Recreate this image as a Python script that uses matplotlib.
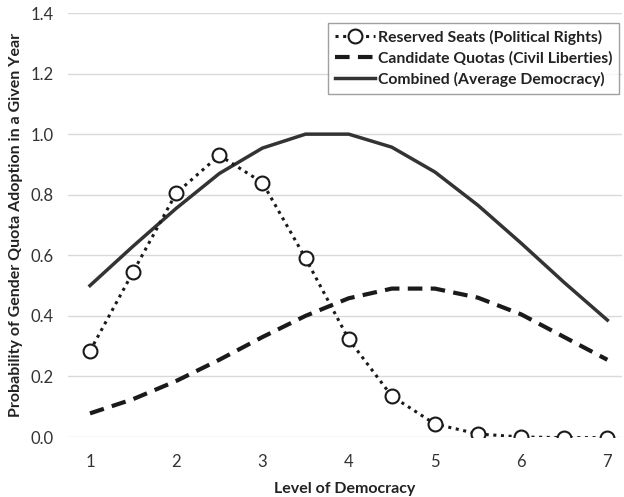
import matplotlib
matplotlib.use("Agg")
import matplotlib.pyplot as plt

plt.rcParams['font.family'] = ['Lato', 'DejaVu Sans']

x = [1, 1.5, 2, 2.5, 3, 3.5, 4, 4.5, 5, 5.5, 6, 6.5, 7]
reserved = [0.284, 0.545, 0.805, 0.93, 0.84, 0.59, 0.323, 0.135, 0.043, 0.01, 0.0, -0.002, -0.002]
candidate = [0.078, 0.125, 0.185, 0.255, 0.33, 0.40, 0.458, 0.49, 0.49, 0.46, 0.405, 0.33, 0.255]
combined = [0.50, 0.63, 0.755, 0.87, 0.954, 1.0, 1.0, 0.957, 0.875, 0.765, 0.64, 0.51, 0.386]
yticks = [0.0, 0.2, 0.4, 0.6, 0.8, 1.0, 1.2, 1.4]
xticks = [1, 2, 3, 4, 5, 6, 7]

fig = plt.figure(figsize=(6.24, 4.97), dpi=100)
ax = fig.add_axes([68/624, 60/497, (622-68)/624, (437-13)/497])

ax.plot(x, reserved, linestyle=(0, (1, 1.5)), color='#1a1a1a', lw=2.2, marker='o',
        markersize=10, markerfacecolor='white', markeredgecolor='#1a1a1a', markeredgewidth=1.5,
        label='Reserved Seats (Political Rights)', zorder=3)
ax.plot(x, candidate, linestyle=(0, (3.5, 2)), color='#1a1a1a', lw=3,
        label='Candidate Quotas (Civil Liberties)', zorder=2)
ax.plot(x, combined, linestyle='-', color='#333333', lw=2.5,
        label='Combined (Average Democracy)', zorder=2)

ax.set_xlim(0.745, 7.17)
ax.set_ylim(0, 1.4)
ax.set_yticks(yticks)
ax.set_yticklabels([f'{v:.1f}' for v in yticks])
ax.set_xticks(xticks)
ax.grid(axis='y', color='#d9d9d9', lw=1)
ax.set_axisbelow(True)
for s in ax.spines.values():
    s.set_visible(False)
ax.tick_params(length=0, labelsize=12, colors='#333333', pad=10)
ax.tick_params(axis='x', pad=12)

ax.set_xlabel('Level of Democracy', fontsize=11.5, fontweight='bold', color='#222222', labelpad=9)
ax.set_ylabel('Probability of Gender Quota Adoption in a Given Year', fontsize=11.5,
              fontweight='bold', color='#222222', labelpad=6)

leg = ax.legend(loc='upper right', bbox_to_anchor=(0.995, 0.977), fontsize=11.3, frameon=True,
                fancybox=False, edgecolor='#888888', handlelength=2.5, handletextpad=0.2,
                borderpad=0.45, labelspacing=0.4, borderaxespad=0.0)
for t in leg.get_texts():
    t.set_fontweight('bold')
    t.set_color('#222222')
leg.get_frame().set_linewidth(1.0)

fig.savefig('out.png', dpi=100)
